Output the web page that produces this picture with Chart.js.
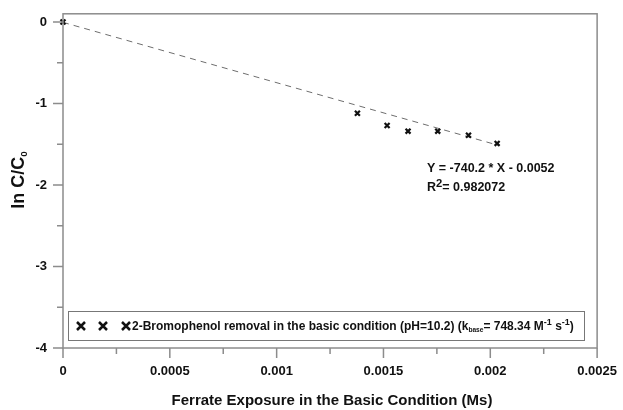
<!DOCTYPE html>
<html>
<head>
<meta charset="utf-8">
<script src="https://cdn.jsdelivr.net/npm/chart.js@4.4.1/dist/chart.umd.min.js"></script>
<style>
html, body { margin: 0; padding: 0; background: #fff; }
</style>
</head>
<body>
<canvas id="chart" width="623" height="410"></canvas>
<script>
// measured points: ferrate exposure (Ms) vs ln C/C0
var exposure = [0, 0.001378, 0.001517, 0.001615, 0.001754, 0.001898, 0.002032];
var lnRatio = [0, -1.12, -1.27, -1.34, -1.34, -1.39, -1.49];
// regression line ends (Y = -740.2 * X - 0.0052)
var fitX = [0, 0.00204];
var fitY = [-0.005, -1.515];
var xTicks = [0, 0.0005, 0.001, 0.0015, 0.002, 0.0025];
var yTicks = [0, -1, -2, -3, -4];

var FONT = "'Liberation Sans', Arial, sans-serif";
var AXIS_GRAY = '#8c8c8c';

function pts(xs, ys) {
    return xs.map(function (x, i) { return { x: x, y: ys[i] }; });
}

function pickLabel(list, v) {
    for (var i = 0; i < list.length; i++) {
        if (Math.abs(list[i] - v) < 1e-9) return String(list[i]);
    }
    return '';
}

// draws text in pieces, with sub/superscript parts
function richText(ctx, x, y, parts, size) {
    parts.forEach(function (p) {
        var fs = size, dy = 0;
        if (p.sub) { fs = size * 0.55; dy = size * 0.3; }
        if (p.sup) { fs = size * (p.big ? 0.9 : 0.75); dy = -size * 0.35; }
        ctx.font = 'bold ' + fs + 'px ' + FONT;
        ctx.fillText(p.t, x, y + dy);
        x += ctx.measureText(p.t).width;
    });
    return x;
}

function drawX(ctx, cx, cy, r, w) {
    ctx.save();
    ctx.lineWidth = w;
    ctx.strokeStyle = '#111';
    ctx.beginPath();
    ctx.moveTo(cx - r, cy - r); ctx.lineTo(cx + r, cy + r);
    ctx.moveTo(cx + r, cy - r); ctx.lineTo(cx - r, cy + r);
    ctx.stroke();
    ctx.restore();
}

var decor = {
    id: 'decor',
    afterDraw: function (chart) {
        var ctx = chart.ctx, a = chart.chartArea;
        var xs = chart.scales.x, ys = chart.scales.y;
        ctx.save();

        // frame
        ctx.strokeStyle = AXIS_GRAY;
        ctx.lineWidth = 1.5;
        ctx.strokeRect(a.left, a.top, a.right - a.left, a.bottom - a.top);

        // outward tick marks, short ones for minor ticks
        ctx.beginPath();
        xs.ticks.forEach(function (t) {
            var px = xs.getPixelForValue(t.value);
            var len = t.label ? 10 : 6;
            ctx.moveTo(px, a.bottom); ctx.lineTo(px, a.bottom + len);
        });
        ys.ticks.forEach(function (t) {
            var py = ys.getPixelForValue(t.value);
            var len = t.label ? 10 : 6;
            ctx.moveTo(a.left, py); ctx.lineTo(a.left - len, py);
        });
        ctx.stroke();

        // legend box
        ctx.fillStyle = '#fff';
        ctx.fillRect(68, 311, 516, 29);
        ctx.strokeStyle = '#777';
        ctx.lineWidth = 1;
        ctx.strokeRect(68.5, 311.5, 516, 29);
        drawX(ctx, 81, 326, 4, 2.5);
        drawX(ctx, 103, 326, 4, 2.5);
        drawX(ctx, 126, 326, 4, 2.5);
        ctx.fillStyle = '#111';
        ctx.textBaseline = 'middle';
        ctx.textAlign = 'left';
        richText(ctx, 132, 327, [
            { t: '2-Bromophenol removal in the basic condition (pH=10.2) (k' },
            { t: 'base', sub: true },
            { t: '= 748.34 M' },
            { t: '-1', sup: true },
            { t: ' s' },
            { t: '-1', sup: true },
            { t: ')' }
        ], 12);

        // regression text
        richText(ctx, 427, 169, [{ t: 'Y = -740.2 * X - 0.0052' }], 12.5);
        richText(ctx, 427, 188, [{ t: 'R' }, { t: '2', sup: true, big: true }, { t: '= 0.982072' }], 12.5);

        // axis titles
        ctx.textAlign = 'center';
        ctx.font = 'bold 15px ' + FONT;
        ctx.fillText('Ferrate Exposure in the Basic Condition (Ms)', 332, 401);

        ctx.translate(19, 180);
        ctx.rotate(-Math.PI / 2);
        ctx.textAlign = 'left';
        ctx.font = 'bold 18px ' + FONT;
        var w = ctx.measureText('ln C/C').width;
        ctx.font = 'bold ' + (18 * 0.55) + 'px ' + FONT;
        w += ctx.measureText('0').width;
        richText(ctx, -w / 2, 0, [{ t: 'ln C/C' }, { t: '0', sub: true }], 18);

        ctx.restore();
    }
};

new Chart(document.getElementById('chart'), {
    type: 'scatter',
    data: {
        datasets: [{
            label: '2-Bromophenol removal in the basic condition (pH=10.2)',
            data: pts(exposure, lnRatio),
            pointStyle: 'crossRot',
            pointRadius: 3.5,
            pointBorderWidth: 2.2,
            borderColor: '#111',
            backgroundColor: '#111',
            clip: false
        }, {
            label: 'fit',
            type: 'line',
            data: pts(fitX, fitY),
            borderColor: '#6e6e6e',
            borderWidth: 1,
            borderDash: [6, 5],
            pointRadius: 0,
            fill: false,
            clip: false
        }]
    },
    plugins: [decor],
    options: {
        responsive: false,
        animation: false,
        layout: { padding: { top: 12, right: 21, left: 0, bottom: 0 } },
        plugins: {
            legend: { display: false },
            tooltip: { enabled: false }
        },
        scales: {
            x: {
                type: 'linear',
                min: 0,
                max: 0.0025,
                border: { display: false },
                grid: { drawOnChartArea: false, tickLength: 10, tickColor: 'rgba(0,0,0,0)' },
                ticks: {
                    stepSize: 0.00025,
                    autoSkip: false,
                    maxRotation: 0,
                    padding: 6,
                    color: '#111',
                    font: { family: FONT, size: 13, weight: 'bold' },
                    callback: function (v) { return pickLabel(xTicks, v); }
                },
                afterFit: function (s) { s.height = 62; }
            },
            y: {
                min: -4,
                max: 0.1,
                border: { display: false },
                grid: { drawOnChartArea: false, tickLength: 10, tickColor: 'rgba(0,0,0,0)' },
                ticks: {
                    stepSize: 0.5,
                    includeBounds: false,
                    padding: 6,
                    color: '#111',
                    font: { family: FONT, size: 13, weight: 'bold' },
                    callback: function (v) { return pickLabel(yTicks, v); }
                },
                afterFit: function (s) { s.width = 63; }
            }
        }
    }
});
</script>
</body>
</html>
